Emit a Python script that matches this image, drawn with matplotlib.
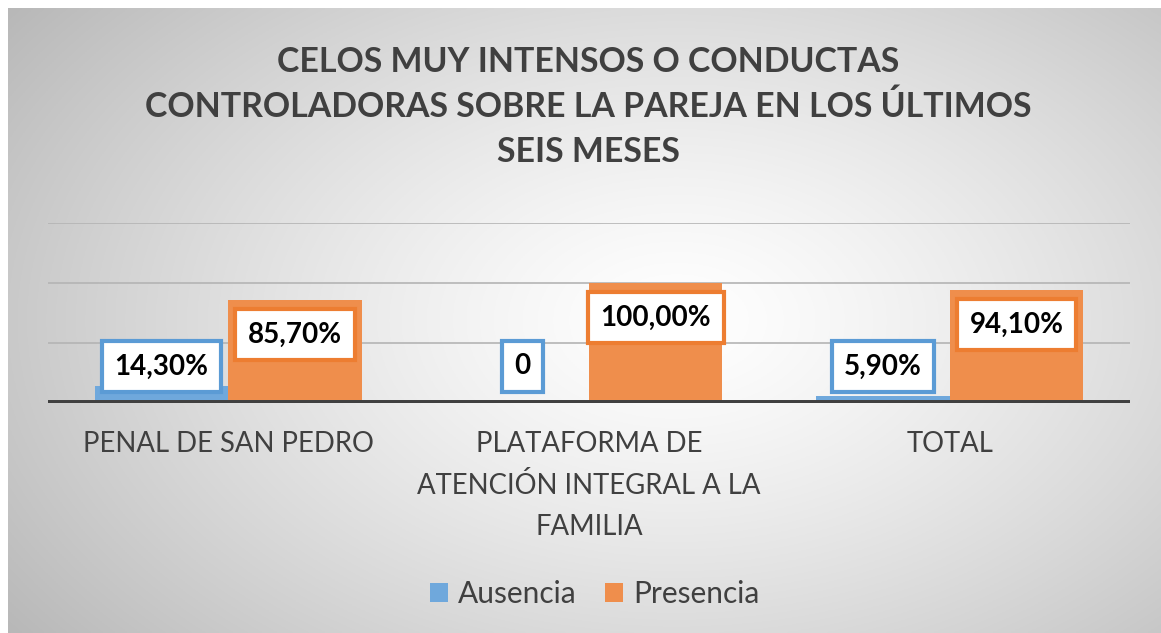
import matplotlib.pyplot as plt
import numpy as np
from matplotlib.patches import Patch

categories = ["PENAL DE SAN PEDRO", "PLATAFORMA DE\nATENCIÓN INTEGRAL A LA\nFAMILIA", "TOTAL"]
ausencia = [14.3, 0, 5.9]
presencia = [85.7, 100.0, 94.1]
aus_labels = ["14,30%", "0", "5,90%"]
pre_labels = ["85,70%", "100,00%", "94,10%"]
title = "CELOS MUY INTENSOS O CONDUCTAS\nCONTROLADORAS SOBRE LA PAREJA EN LOS ÚLTIMOS\nSEIS MESES"

blue = "#5B9BD5"
orange = "#ED7D31"
text_col = "#404040"

plt.rcParams['font.family'] = ['Lato', 'DejaVu Sans']

W, H = 1161, 633
fig = plt.figure(figsize=(W / 100, H / 100), dpi=100)
fig.patch.set_facecolor("white")

# background with radial gradient
bg = fig.add_axes([8 / W, 0, 1 - 8 / W, 1 - 8 / H])
yy, xx = np.mgrid[0:1:300j, 0:1:600j]
r = np.sqrt(((xx - 0.58) / 0.72) ** 2 + ((yy - 0.5) / 0.85) ** 2)
shade = 1.0 - 0.28 * np.clip(r, 0, 1) ** 1.3
bg.imshow(np.dstack([shade] * 3), extent=[0, 1, 0, 1], aspect="auto", origin="lower")
bg.set_axis_off()

ax = fig.add_axes([48 / W, (H - 403) / H, 1082 / W, 180 / H])
ax.patch.set_alpha(0)
x = np.arange(len(categories))
w = 0.37
ax.bar(x - 0.185, ausencia, w, color="#6FA8DC", zorder=2)
ax.bar(x + 0.185, presencia, w, color="#EF8E4C", zorder=2)

ax.set_xlim(-0.5, 2.5)
ax.set_ylim(0, 150)
for g in [50, 100, 150]:
    ax.axhline(g, color="#B4B4B4", lw=1.2, zorder=1)
ax.axhline(0, color=text_col, lw=4.3, zorder=3)
for s in ax.spines.values():
    s.set_visible(False)
ax.set_yticks([])
ax.set_xticks(x)
ax.set_xticklabels(categories, fontsize=19.8, color=text_col, linespacing=1.7)
ax.tick_params(axis="x", length=0, pad=20)

def add_labels(offset, vals, labels, col):
    for xi, v, lab in zip(x + offset, vals, labels):
        ax.text(xi, max(v - 29, 30.5), lab, ha="center", va="center",
                fontsize=20, fontweight="bold", color="black", zorder=4,
                bbox=dict(boxstyle="square,pad=0.45", facecolor="white",
                          edgecolor=col, linewidth=3))

add_labels(-0.185, ausencia, aus_labels, blue)
add_labels(0.185, presencia, pre_labels, orange)

fig.text(588 / W, 1 - 107 / H, title, ha="center", va="center", fontsize=24.4,
         fontweight="bold", color=text_col, linespacing=1.5)

# legend
handles = [Patch(facecolor="#6FA8DC", label="Ausencia"), Patch(facecolor="#EF8E4C", label="Presencia")]
fig.legend(handles=handles, loc="center", bbox_to_anchor=(595 / W, 1 - 594 / H), ncol=2,
           frameon=False, fontsize=21.5, labelcolor=text_col, handlelength=0.6, handleheight=0.6,
           handletextpad=0.35, columnspacing=0.95)

fig.savefig("out.png", dpi=100)
